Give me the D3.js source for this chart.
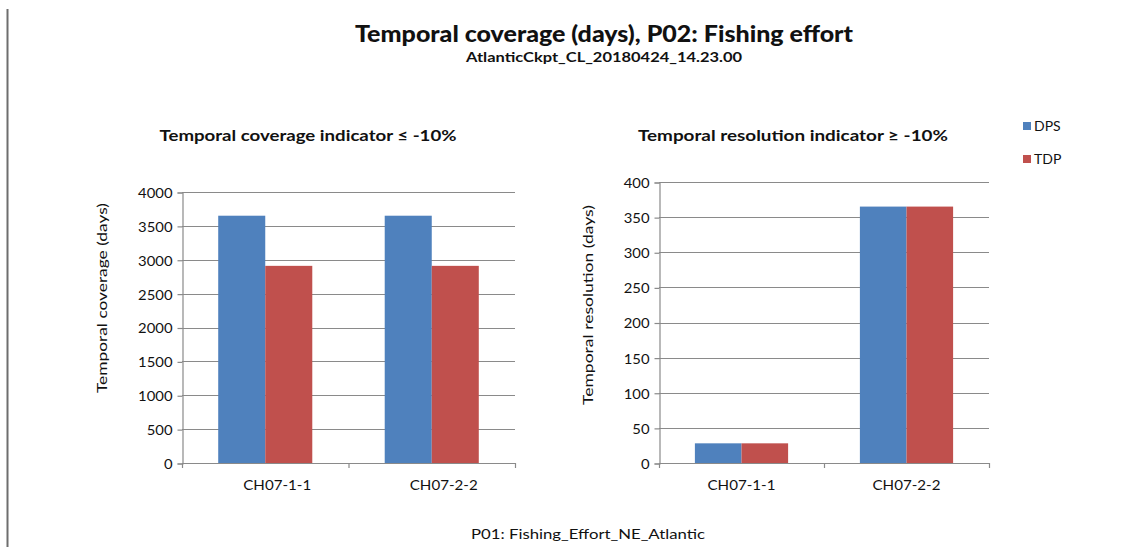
<!DOCTYPE html>
<html><head><meta charset="utf-8">
<script src="https://cdn.jsdelivr.net/npm/d3@7"></script>
<style>body{margin:0;background:#fff}svg{display:block}text{font-family:Lato,"Open Sans",sans-serif;fill:#111}</style>
</head><body><svg id="c" width="1121" height="547"></svg>
<script>
const categories = ["CH07-1-1", "CH07-2-2"];
const seriesNames = ["DPS", "TDP"];
const seriesColors = ["#4F81BD", "#C0504D"];
const coverageDPS = [3650, 3650];
const coverageTDP = [2910, 2910];
const resolutionDPS = [28, 365];
const resolutionTDP = [28, 365];
const coverageTicks = [0, 500, 1000, 1500, 2000, 2500, 3000, 3500, 4000];
const resolutionTicks = [0, 50, 100, 150, 200, 250, 300, 350, 400];

const svg = d3.select("#c");
function fit(sel, w){ sel.attr("textLength", w).attr("lengthAdjust","spacingAndGlyphs"); return sel; }

svg.append("line").attr("x1",7.5).attr("x2",7.5).attr("y1",9).attr("y2",547).attr("stroke","#6e6e6e").attr("stroke-width",2);

fit(svg.append("text").attr("x",604).attr("y",42).attr("text-anchor","middle").attr("font-weight","900").attr("font-size",22)
  .text("Temporal coverage (days), P02: Fishing effort"), 498);
fit(svg.append("text").attr("x",604).attr("y",62).attr("text-anchor","middle").attr("font-weight","bold").attr("font-size",13)
  .text("AtlanticCkpt_CL_20180424_14.23.00"), 276);
fit(svg.append("text").attr("x",588).attr("y",539).attr("text-anchor","middle").attr("font-size",14)
  .text("P01: Fishing_Effort_NE_Atlantic"), 234);

function panel(o){
  const g = svg.append("g");
  const x = d3.scaleBand().domain(categories).range([o.x0, o.x1]).paddingInner(0).paddingOuter(0);
  const xs = d3.scaleBand().domain(seriesNames).range([0, x.bandwidth()]).paddingInner(0).paddingOuter(0.77);
  const y = d3.scaleLinear().domain([0, o.ticks[o.ticks.length-1]]).range([o.y0, o.y1]);
  g.selectAll("line.grid").data(o.ticks.slice(1)).join("line").attr("class","grid")
    .attr("x1",o.x0).attr("x2",o.x1).attr("y1",d=>Math.round(y(d))+0.5).attr("y2",d=>Math.round(y(d))+0.5)
    .attr("stroke","#8a8a8a").attr("stroke-width",1.2);
  const data = [];
  categories.forEach((c,i)=>{ seriesNames.forEach((s,j)=>{ data.push({c, s, v:o.values[j][i], col:seriesColors[j]}); }); });
  g.selectAll("rect").data(data).join("rect")
    .attr("x",d=>x(d.c)+xs(d.s)).attr("width",xs.bandwidth())
    .attr("y",d=>y(d.v)).attr("height",d=>y(0)-y(d.v)).attr("fill",d=>d.col);
  const ya = d3.axisLeft(y).tickValues(o.ticks).tickSize(5).tickPadding(5).tickFormat(d3.format("d"));
  const yg = g.append("g").attr("transform",`translate(${o.x0+0.5},0.5)`).call(ya);
  yg.select(".domain").attr("stroke","#8a8a8a").attr("stroke-width",1.2);
  yg.selectAll(".tick line").attr("stroke","#8a8a8a").attr("stroke-width",1.2);
  yg.selectAll(".tick text").attr("font-size",14).attr("font-family","Lato").attr("fill","#111").attr("dy","0.35em")
    .each(function(d){ d3.select(this).attr("textLength", String(d).length*8.6).attr("lengthAdjust","spacingAndGlyphs"); });
  g.append("line").attr("x1",o.x0).attr("x2",o.x1).attr("y1",o.y0+0.5).attr("y2",o.y0+0.5).attr("stroke","#8a8a8a").attr("stroke-width",1.2);
  const bounds = categories.map(c=>x(c)).concat([o.x1]);
  g.selectAll("line.xt").data(bounds).join("line").attr("class","xt")
    .attr("x1",d=>d+0.5).attr("x2",d=>d+0.5).attr("y1",o.y0).attr("y2",o.y0+5).attr("stroke","#8a8a8a").attr("stroke-width",1.2);
  g.selectAll("text.xl").data(categories).join("text").attr("class","xl")
    .attr("x",d=>x(d)+x.bandwidth()/2+o.labelDx).attr("y",o.y0+27).attr("text-anchor","middle").attr("font-size",14)
    .attr("textLength",68).attr("lengthAdjust","spacingAndGlyphs").text(d=>d);
  fit(g.append("text").attr("x",o.titleX).attr("y",141).attr("text-anchor","middle").attr("font-weight","bold").attr("font-size",16).text(o.title), o.titleW);
  fit(g.append("text").attr("transform",`translate(${o.ytX},${o.ytY}) rotate(-90)`).attr("text-anchor","middle").attr("font-size",14).text(o.ytitle), o.ytW);
}

panel({x0:182, x1:515, y0:463, y1:192, ticks:coverageTicks, values:[coverageDPS, coverageTDP], labelDx:12,
  title:"Temporal coverage indicator \u2264 -10%", titleX:308, titleW:297,
  ytitle:"Temporal coverage (days)", ytX:107, ytY:298, ytW:190});
panel({x0:659, x1:989, y0:463, y1:182, ticks:resolutionTicks, values:[resolutionDPS, resolutionTDP], labelDx:0,
  title:"Temporal resolution  indicator \u2265 -10%", titleX:793, titleW:310,
  ytitle:"Temporal resolution (days)", ytX:593, ytY:305, ytW:200});

const lg = svg.append("g");
seriesNames.forEach((s,i)=>{
  const yy = 126 + i*33;
  lg.append("rect").attr("x",1023).attr("y",yy-4).attr("width",8).attr("height",8).attr("fill",seriesColors[i]);
  lg.append("text").attr("x",1034).attr("y",yy+5).attr("font-size",14).text(s);
});
</script></body></html>
